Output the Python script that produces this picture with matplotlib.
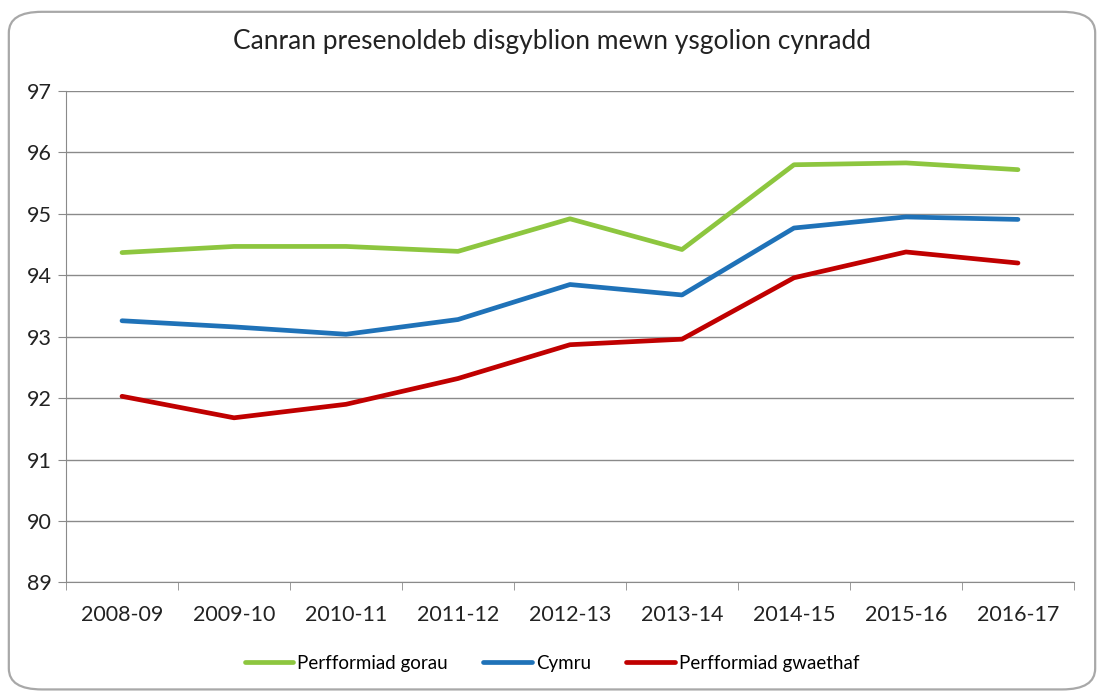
import numpy as np
import matplotlib.pyplot as plt
from matplotlib.patches import FancyBboxPatch

# Data
years = ['2008-09', '2009-10', '2010-11', '2011-12', '2012-13',
         '2013-14', '2014-15', '2015-16', '2016-17']
gorau = [94.37, 94.47, 94.47, 94.39, 94.92, 94.42, 95.80, 95.83, 95.72]
cymru = [93.26, 93.16, 93.04, 93.28, 93.85, 93.68, 94.77, 94.95, 94.91]
gwaethaf = [92.03, 91.68, 91.90, 92.32, 92.87, 92.96, 93.96, 94.38, 94.20]

plt.rcParams['font.family'] = ['Lato', 'DejaVu Sans']

fig = plt.figure(figsize=(11.04, 6.95), dpi=100)

# rounded frame round the whole chart
frame = FancyBboxPatch((0.008, 0.008), 0.984, 0.975,
                       boxstyle='round,pad=0,rounding_size=0.03',
                       transform=fig.transFigure, facecolor='white',
                       edgecolor='#a8a8a8', linewidth=1.6, zorder=-10)
fig.patches.append(frame)

ax = fig.add_axes([0.0598, 0.162, 0.913, 0.707])
ax.set_facecolor('none')

x = np.arange(len(years))
ax.plot(x, gorau, color='#8DC63F', lw=3.4, label='Perfformiad gorau', solid_capstyle='round')
ax.plot(x, cymru, color='#1F72B8', lw=3.4, label='Cymru', solid_capstyle='round')
ax.plot(x, gwaethaf, color='#C00000', lw=3.4, label='Perfformiad gwaethaf', solid_capstyle='round')

ax.set_xlim(-0.5, len(years) - 0.5)
ax.set_ylim(89, 97)
ax.set_yticks(range(89, 98))
ax.yaxis.grid(True, color='#8a8a8a', lw=1)
ax.set_axisbelow(True)

# category labels in the middle, ticks on the boundaries
ax.set_xticks(x)
ax.set_xticklabels(years, fontsize=15.5, color='#222222')
ax.set_xticks(np.arange(-0.5, len(years)), minor=True)
ax.tick_params(axis='x', which='major', length=0, pad=16)
ax.tick_params(axis='x', which='minor', length=6, color='#8a8a8a')
ax.tick_params(axis='y', length=6, color='#8a8a8a', labelsize=15.5,
               labelcolor='#222222', pad=4)

for s in ['top', 'right']:
    ax.spines[s].set_visible(False)
ax.spines['left'].set_color('#8a8a8a')
ax.spines['bottom'].set_color('#8a8a8a')

fig.text(0.5, 0.94, 'Canran presenoldeb disgyblion mewn ysgolion cynradd',
         ha='center', va='center', fontsize=19, color='#222222')

fig.legend(loc='center', bbox_to_anchor=(0.5, 0.046), ncol=3, frameon=False,
           fontsize=13.5, handlelength=2.6, handletextpad=0.2, columnspacing=1.9)

fig.savefig('out.png', dpi=100)
